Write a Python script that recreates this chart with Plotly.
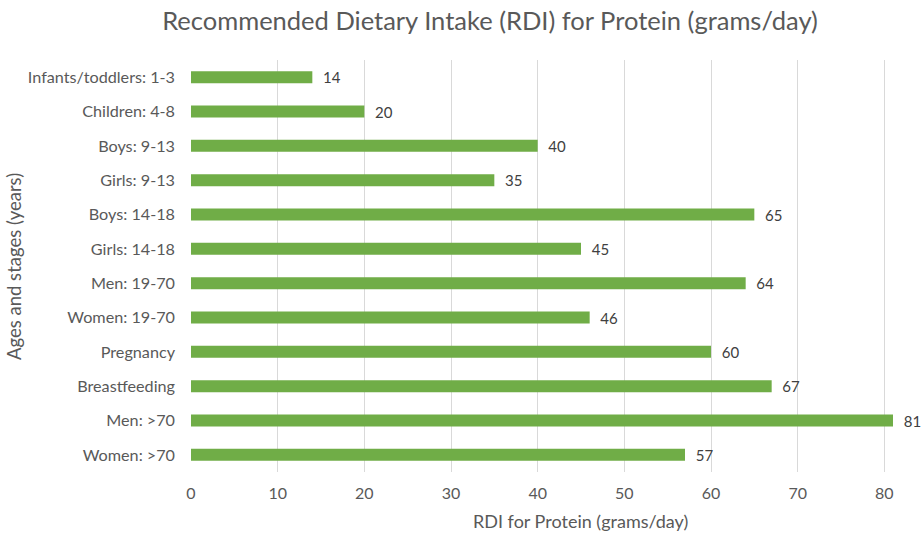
import plotly.graph_objects as go

categories = ["Infants/toddlers: 1-3", "Children: 4-8", "Boys: 9-13", "Girls: 9-13",
              "Boys: 14-18", "Girls: 14-18", "Men: 19-70", "Women: 19-70",
              "Pregnancy", "Breastfeeding", "Men: >70", "Women: >70"]
values = [14, 20, 40, 35, 65, 45, 64, 46, 60, 67, 81, 57]
x_ticks = [0, 10, 20, 30, 40, 50, 60, 70, 80]

FONT = "Lato, 'Open Sans', sans-serif"
GREY = "#595959"

W, H = 924, 535

fig = go.Figure(go.Bar(
    y=categories, x=values, orientation="h",
    marker=dict(color="#70AD47", line=dict(width=0)),
    width=0.35,
    text=[str(v) for v in values], texttemplate="  %{x}", textposition="outside",
    constraintext="none",
    textfont=dict(family=FONT, size=15, color="#404040"),
    cliponaxis=False,
    hoverinfo="skip",
))

fig.update_layout(
    width=W, height=H,
    margin=dict(l=191, r=31, t=60, b=63, autoexpand=False),
    paper_bgcolor="white", plot_bgcolor="white",
    title=dict(text="Recommended Dietary Intake (RDI) for Protein (grams/day)",
               x=490/W, xanchor="center", y=1-21/H, yanchor="middle",
               font=dict(family=FONT, size=25.5, color=GREY)),
    font=dict(family=FONT, color=GREY, size=16),
    showlegend=False,
    xaxis=dict(range=[0, 81], tickvals=x_ticks, showgrid=True, gridcolor="#D9D9D9",
               gridwidth=1, zeroline=False, showline=False, ticks="", automargin=False,
               tickfont=dict(size=16, color=GREY), ticklabelstandoff=10),
    yaxis=dict(autorange="reversed", showgrid=False, zeroline=False, showline=False,
               ticks="", automargin=False, ticklabelstandoff=15,
               tickfont=dict(size=16.2, color=GREY)),
    annotations=[
        dict(text="RDI for Protein (grams/day)", xref="paper", yref="paper",
             x=(580-191)/702, y=(472-521)/412, xanchor="center", yanchor="middle",
             showarrow=False, font=dict(family=FONT, size=18, color=GREY)),
        dict(text="Ages and stages (years)", xref="paper", yref="paper",
             x=(14-191)/702, y=(472-267)/412, xanchor="center", yanchor="middle",
             textangle=-90, showarrow=False, font=dict(family=FONT, size=18.5, color=GREY)),
    ],
)

fig.write_html("out.html", config={"displayModeBar": False},
               post_script="document.body.style.margin='0';")
